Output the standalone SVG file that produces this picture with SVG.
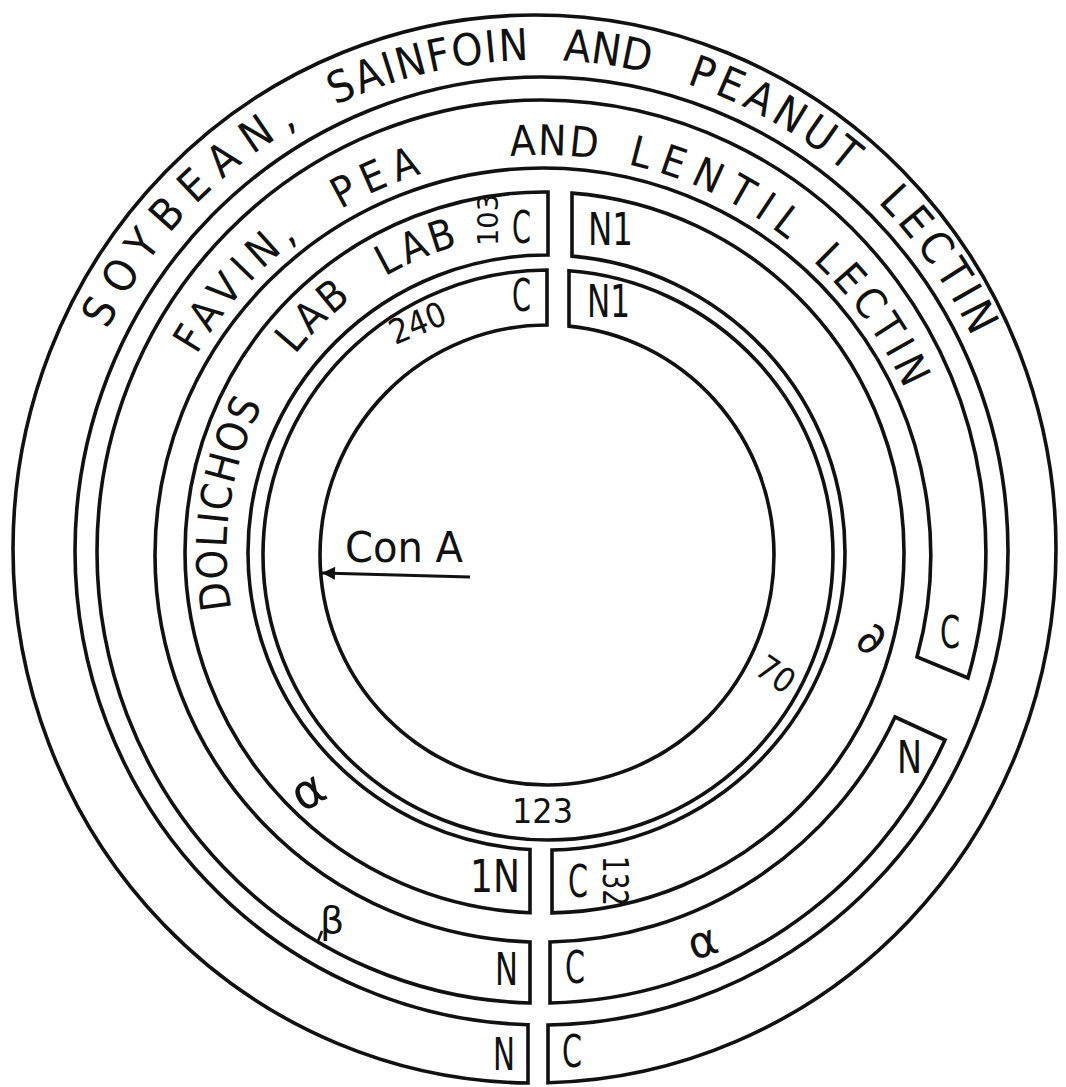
<svg xmlns="http://www.w3.org/2000/svg" width="1066" height="1087" viewBox="0 0 1066 1087">
<style>
.band{fill:none;stroke:#111;stroke-width:3.6;stroke-linejoin:miter}
.t{font-family:"DejaVu Sans","Liberation Sans",sans-serif;fill:#111;font-stretch:condensed}
.arcA{font-size:44px}
.arcB{font-size:42px}
.arcC{font-size:42px}
.lab{font-size:44px}
.num{font-size:34px}
.gr{font-family:"DejaVu Sans","Liberation Sans",sans-serif;fill:#111}
</style>
<defs>
<path id="pA" d="M 56 550 A 482 490 0 0 1 538 60 A 482 490 0 0 1 1020 550"/>
<path id="pB" d="M 144 553 A 398 398 0 0 1 542 155 A 398 398 0 0 1 940 553"/>
<path id="pC" d="M 269.2 712 A 319 319 0 0 1 545.5 233.5"/>
<marker id="ah" viewBox="0 0 10 10" refX="10" refY="5" markerWidth="24" markerHeight="13" markerUnits="userSpaceOnUse" orient="auto">
<path d="M0,0 L10,5 L0,10 z" fill="#111"/>
</marker>
</defs>
<rect width="1066" height="1087" fill="#fff"/>

<g id="ringA">
<path class="band" d="M 528 1083 A 521.5 534 0 0 1 13 549 A 521.5 534 0 0 1 534.5 15 A 521.5 534 0 0 1 1056 549 A 521.5 534 0 0 1 548 1082.8 L 548 1025 A 466.5 474 0 0 0 1008 551 A 466.5 474 0 0 0 541.5 77 A 466.5 474 0 0 0 75 551 A 466.5 474 0 0 0 528 1024.8 Z"/>
<text class="t arcA"><textPath href="#pA" startOffset="228" letter-spacing="12">SOYBEAN,</textPath></text>
<text class="t arcA"><textPath href="#pA" startOffset="554" letter-spacing="1.5">SAINFOIN</textPath></text>
<text class="t arcA"><textPath href="#pA" startOffset="788" letter-spacing="0">AND</textPath></text>
<text class="t arcA"><textPath href="#pA" startOffset="914" letter-spacing="5">PEANUT</textPath></text>
<text class="t arcA"><textPath href="#pA" startOffset="1141" letter-spacing="5">LECTIN</textPath></text>
<text class="t lab" x="493" y="1070" textLength="22" lengthAdjust="spacingAndGlyphs">N</text>
<text class="t lab" x="562" y="1067" textLength="20" lengthAdjust="spacingAndGlyphs">C</text>
</g>

<g id="ringB">
<path class="band" d="M 530 1003 A 444.5 451.5 0 0 1 97 551.5 A 444.5 451.5 0 0 1 541.5 100 A 444.5 451.5 0 0 1 968 678 L 917 657 A 388 387 0 0 0 543 168 A 388 387 0 0 0 155 555 A 388 387 0 0 0 530 942 Z"/>
<path class="band" d="M 945 740 A 444.5 451.5 0 0 1 550 1003 L 550 942 A 388 387 0 0 0 895 717 Z"/>
<text class="t arcB"><textPath href="#pB" startOffset="207" letter-spacing="7.4">FAVIN,</textPath></text>
<text class="t arcB"><textPath href="#pB" startOffset="414" letter-spacing="8">PEA</textPath></text>
<text class="t arcB"><textPath href="#pB" startOffset="593" letter-spacing="2">AND</textPath></text>
<text class="t arcB"><textPath href="#pB" startOffset="711" letter-spacing="10">LENTIL</textPath></text>
<text class="t arcB"><textPath href="#pB" startOffset="922" letter-spacing="5">LECTIN</textPath></text>
<text class="t lab" x="495" y="985" textLength="23" lengthAdjust="spacingAndGlyphs">N</text>
<text class="t lab" x="565" y="983" textLength="20" lengthAdjust="spacingAndGlyphs">C</text>
<text class="t lab" x="940" y="648" textLength="20" lengthAdjust="spacingAndGlyphs">C</text>
<text class="t lab" x="897" y="773" textLength="25" lengthAdjust="spacingAndGlyphs">N</text>
<text class="gr" style="font-size:38px" transform="translate(332 933)" text-anchor="middle">β</text>
<text class="gr" style="font-size:44px" transform="translate(707 956) rotate(-18)" text-anchor="middle">α</text>
</g>

<g id="ringC">
<path class="band" d="M 530 912.7 A 359.5 360.5 0 0 1 185 552.5 A 359.5 360.5 0 0 1 548 192 L 548 255 A 298.5 297.5 0 0 0 248 552.5 A 298.5 297.5 0 0 0 530 849.5 Z"/>
<path class="band" d="M 572 193.1 A 359.5 360.5 0 0 1 904 552.5 A 359.5 360.5 0 0 1 552 912.9 L 552 850 A 298.5 297.5 0 0 0 845 552.5 A 298.5 297.5 0 0 0 572 256.1 Z"/>
<text class="t arcC"><textPath href="#pC" startOffset="110" letter-spacing="1.5">DOLICHOS</textPath></text>
<text class="t arcC"><textPath href="#pC" startOffset="380" letter-spacing="3" word-spacing="22">LAB LAB</textPath></text>
<text class="t" font-size="28" transform="translate(498 220) rotate(-90)" text-anchor="middle" textLength="52" lengthAdjust="spacingAndGlyphs">103</text>
<text class="t lab" x="512" y="243" textLength="19" lengthAdjust="spacingAndGlyphs">C</text>
<text class="t lab" x="588" y="245" textLength="45" lengthAdjust="spacingAndGlyphs">N1</text>
<text class="t lab" x="470" y="892" textLength="50" lengthAdjust="spacingAndGlyphs">1N</text>
<text class="t lab" x="568" y="897" textLength="20" lengthAdjust="spacingAndGlyphs">C</text>
<text class="t" font-size="36" transform="translate(603 881) rotate(90)" text-anchor="middle" textLength="50" lengthAdjust="spacingAndGlyphs">132</text>
<text class="gr" style="font-size:48px" transform="translate(316 805) rotate(-30)" text-anchor="middle">α</text>
<text class="gr" style="font-size:46px" transform="translate(864 652) rotate(30)" text-anchor="middle">∂</text>
</g>

<g id="ringD">
<path class="band" d="M 569 270.8 A 285 285 0 0 1 833 555 A 285 285 0 0 1 548 840 A 285 285 0 0 1 263 555 A 285 285 0 0 1 547 270 L 547 325 A 227 230 0 0 0 320 555 A 227 230 0 0 0 547 785 A 227 230 0 0 0 774 555 A 227 230 0 0 0 569 326.1 Z"/>
<text class="t lab" x="512" y="311" textLength="19" lengthAdjust="spacingAndGlyphs">C</text>
<text class="t lab" x="587" y="317" textLength="43" lengthAdjust="spacingAndGlyphs">N1</text>
<text class="t num" transform="translate(422 334) rotate(-22)" text-anchor="middle">240</text>
<text class="t num" transform="translate(769 684) rotate(35)" text-anchor="middle">70</text>
<text class="t num" x="512" y="823" textLength="61" lengthAdjust="spacingAndGlyphs">123</text>
</g>

<g id="conA">
<text class="t" font-size="42" x="345" y="562" textLength="118" lengthAdjust="spacingAndGlyphs">Con A</text>
</g>

<g id="connectors">
<line x1="470" y1="577" x2="322" y2="573" stroke="#111" stroke-width="3" marker-end="url(#ah)"/>
<line x1="322" y1="931" x2="318" y2="941" stroke="#111" stroke-width="2.5"/>
</g>
</svg>
